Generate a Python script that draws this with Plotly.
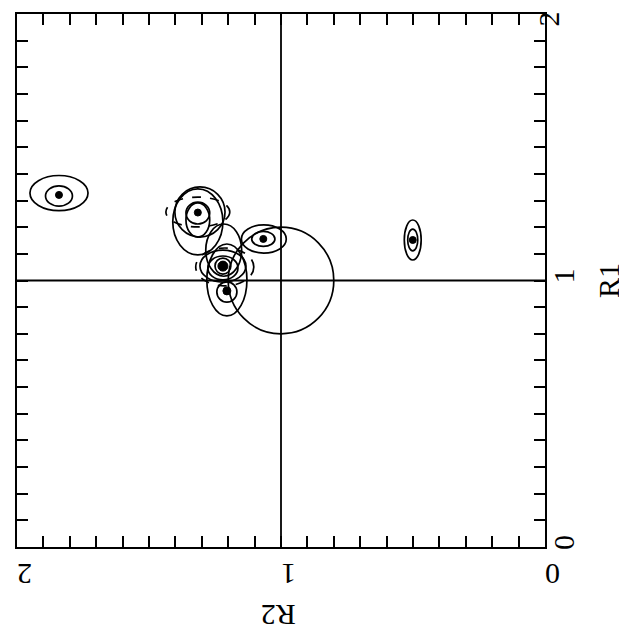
import plotly.graph_objects as go

# --- data -------------------------------------------------------------
point_r2 = [1.841, 1.315, 1.067, 1.220, 1.205, 0.501]
point_r1 = [1.321, 1.255, 1.156, 1.054, 0.961, 1.152]
point_size = [7, 7, 7, 10, 8, 7]

# contour ellipses: centre (R2, R1), half-axes (a along R2, b along R1)
ell_r2 = [1.841, 1.841, 1.315, 1.315, 1.307, 1.315, 1.315, 1.217, 1.067, 1.065,
          1.220, 1.220, 1.220, 1.213, 1.205, 1.205, 0.501, 0.501, 1.000]
ell_r1 = [1.317, 1.328, 1.253, 1.227, 1.257, 1.257, 1.220, 1.114, 1.156, 1.156,
          1.054, 1.047, 1.054, 1.051, 0.957, 1.002, 1.152, 1.152, 1.000]
ell_a = [0.051, 0.110, 0.045, 0.045, 0.095, 0.121, 0.095, 0.068, 0.044, 0.085,
         0.030, 0.057, 0.087, 0.110, 0.038, 0.076, 0.019, 0.032, 0.200]
ell_b = [0.038, 0.066, 0.041, 0.064, 0.094, 0.056, 0.124, 0.098, 0.028, 0.053,
         0.030, 0.045, 0.060, 0.071, 0.038, 0.135, 0.041, 0.075, 0.200]
ell_dash = [False, False, False, False, False, True, False, False, False, False,
            False, False, False, True, False, False, False, False, False]

ref_r2 = 1.0
ref_r1 = 1.0
x_ticks = [i / 10 for i in range(0, 21)]
y_ticks = [i / 10 for i in range(0, 21)]
x_labels = {0.0: "0", 1.0: "1", 2.0: "2"}
y_labels = {0.0: "0", 1.0: "1"}
y_top_label = "2"
y_top_value = 2.0

# --- figure -----------------------------------------------------------
fig = go.Figure()
fig.add_trace(go.Scatter(
    x=point_r2, y=point_r1, mode="markers",
    marker=dict(color="#000000", size=point_size, opacity=1,
                line=dict(width=1, color="#000000")),
    showlegend=False, hoverinfo="skip"))

shapes = []
for cx, cy, a, b, d in zip(ell_r2, ell_r1, ell_a, ell_b, ell_dash):
    shapes.append(dict(type="circle", xref="x", yref="y", layer="below",
                       x0=cx - a, x1=cx + a, y0=cy - b, y1=cy + b,
                       line=dict(color="black", width=1.7,
                                 dash="dash" if d else "solid")))
shapes.append(dict(type="line", xref="x", yref="paper", x0=ref_r2, x1=ref_r2,
                   y0=0, y1=1, layer="below", line=dict(color="black", width=1.8)))
shapes.append(dict(type="line", xref="paper", yref="y", x0=0, x1=1,
                   y0=ref_r1, y1=ref_r1, layer="below", line=dict(color="black", width=1.8)))

font = "Liberation Serif"
fig.update_layout(
    width=627, height=634,
    margin=dict(l=9, r=90, t=6, b=95, autoexpand=False),
    paper_bgcolor="white", plot_bgcolor="white",
    shapes=shapes,
    font=dict(family=font, color="black", size=28),
    xaxis=dict(range=[2, 0], tickmode="array", tickvals=x_ticks,
               ticktext=[x_labels.get(round(v, 1), "") for v in x_ticks],
               ticks="inside", ticklen=11, tickwidth=1.6, tickcolor="black",
               showline=True, linecolor="black", linewidth=2, mirror="ticks",
               showgrid=False, zeroline=False, tickangle=180, automargin=False,
               ticklabelstandoff=9, ticklabeloverflow="allow",
               tickfont=dict(family=font, size=30)),
    yaxis=dict(range=[0, 2], side="right", tickmode="array", tickvals=y_ticks,
               ticktext=[y_labels.get(round(v, 1), "") for v in y_ticks],
               ticks="inside", ticklen=11, tickwidth=1.6, tickcolor="black",
               showline=True, linecolor="black", linewidth=2, mirror="ticks",
               showgrid=False, zeroline=False, tickangle=-90, automargin=False,
               ticklabelstandoff=-9, ticklabeloverflow="allow",
               tickfont=dict(family=font, size=30)),
    annotations=[
        dict(text="R2", xref="x", yref="paper", x=1.01, y=0, yshift=-87,
             showarrow=False, textangle=180, font=dict(family=font, size=30)),
        dict(text="R1", xref="paper", yref="y", x=1, y=1.0, xshift=82,
             showarrow=False, textangle=-90, font=dict(family=font, size=30)),
        dict(text=y_top_label, xref="paper", yref="y", x=1, y=y_top_value,
             xshift=21, yshift=-5, showarrow=False, textangle=-90,
             font=dict(family=font, size=30)),
    ],
)

fig.write_html("out.html")
